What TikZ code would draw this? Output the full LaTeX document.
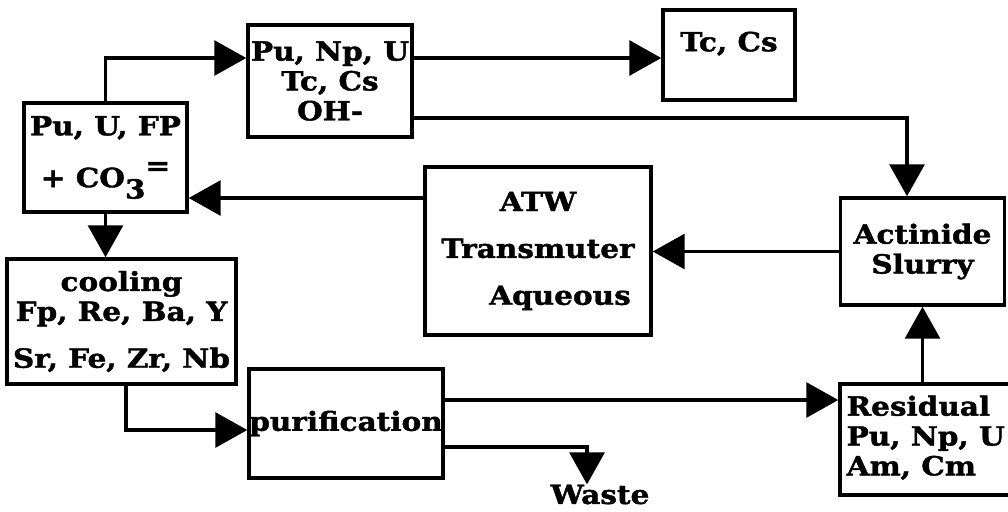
\documentclass[tikz,border=0pt]{standalone}
\usepackage{fontspec}
\setmainfont{DejaVu Serif}[BoldFeatures={FakeStretch=1.12, FakeBold=1.5}]
\usetikzlibrary{arrows.meta}

\begin{document}
\begin{tikzpicture}[x=0.02cm, y=-0.02cm,
    every node/.style={font=\bfseries\fontsize{15}{17}\selectfont},
    blk/.style={draw, line width=2pt, inner sep=0pt, align=center},
    lbl/.style={inner sep=0pt, align=left},
    arr/.style={line width=1.8pt, -{Triangle[length=6.4mm, width=7mm]}}]
  \useasboundingbox (0,0) rectangle (1008,511);

  % Feed and first split
  \node[blk, minimum width=3.26cm, minimum height=2.18cm] (feed) at (105.5,157.5)
    {Pu, U, FP\\[0.44cm]+ CO\raisebox{-6.5pt}{3}\raisebox{7pt}{=}};
  \node[blk, minimum width=3.28cm, minimum height=2.24cm] (npu) at (330,81)
    {Pu, Np, U\\Tc, Cs\\OH-};
  \node[blk, minimum width=2.64cm, minimum height=1.8cm,
    label={[lbl, anchor=base, yshift=-0.86cm]north:{Tc, Cs}}] (tc) at (729,55) {};

  % Transmuter loop
  \node[blk, minimum width=4.52cm, minimum height=3.36cm] (atw) at (538,251)
    {ATW\\[0.34cm]Transmuter\\[0.34cm]\hspace*{0.88cm}Aqueous};
  \node[blk, minimum width=3.28cm, minimum height=2.14cm] (act) at (922.5,251.5)
    {Actinide\\Slurry};

  % Cooling and purification
  \node[blk, minimum width=4.58cm, minimum height=2.5cm] (cool) at (121.5,321.5)
    {cooling\\Fp, Re, Ba, Y\\[0.34cm]Sr, Fe, Zr, Nb};
  \node[blk, minimum width=3.88cm, minimum height=2.18cm,
    label={[anchor=center]center:purification}] (purif) at (346,423.5) {};
  \node[blk, minimum width=3.48cm, minimum height=2.22cm,
    label={[lbl, anchor=north west, xshift=0.16cm, yshift=-0.26cm]north west:{Residual\\Pu, Np, U\\Am, Cm}}] (res) at (927,439.5) {};
  \node[inner sep=0pt] (waste) at (600,494.5) {Waste};

  % Arrows
  \draw[arr] (feed.north) |- ([yshift=0.46cm]npu.west);
  \draw[arr] ([yshift=0.46cm]npu.east) -- ([yshift=0.46cm]npu.east -| tc.west);
  \draw[arr] ([yshift=-0.74cm]npu.east) -| ([xshift=-0.31cm]act.north);
  \draw[arr] (act.west) -- (act.west -| atw.east);
  \draw[arr] ([yshift=1.06cm]atw.west) -- ([yshift=1.06cm]atw.west -| feed.east);
  \draw[arr] (feed.south) -- (feed.south |- cool.north);
  \draw[arr] ([xshift=0.09cm]cool.south) |- ([yshift=-0.13cm]purif.west);
  \draw[arr] ([yshift=0.47cm]purif.east) -- ([yshift=0.47cm]purif.east -| res.west);
  \draw[arr] (act.south |- res.north) -- (act.south);
  \draw[arr] ([yshift=-0.47cm]purif.east) -| ([xshift=-0.26cm]waste.north);
\end{tikzpicture}
\end{document}
